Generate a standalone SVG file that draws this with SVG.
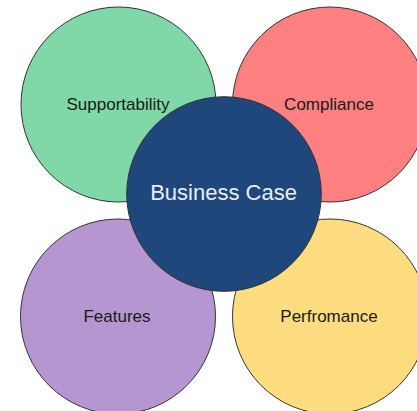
<svg xmlns="http://www.w3.org/2000/svg" width="417" height="411" viewBox="0 0 417 411">
<style>
.c{stroke:#333;stroke-width:1}
.t{font-family:"Liberation Sans",Arial,sans-serif;font-size:17px;fill:#1a1a1a;text-anchor:middle}
.b{font-family:"Liberation Sans",Arial,sans-serif;font-size:22px;fill:#e8eef8;text-anchor:middle}
</style>
<rect width="417" height="411" fill="#fff"/>
<g id="connectors"></g>
<g id="supportability">
<circle class="c" cx="118.5" cy="104.5" r="97.5" fill="#80d7a7"/>
<text class="t" x="118" y="110">Supportability</text>
</g>
<g id="compliance">
<circle class="c" cx="330" cy="104.5" r="97.5" fill="#ff8080"/>
<text class="t" x="329" y="110">Compliance</text>
</g>
<g id="features">
<circle class="c" cx="118" cy="316.5" r="97.5" fill="#b596d0"/>
<text class="t" x="117" y="321.5">Features</text>
</g>
<g id="perfromance">
<circle class="c" cx="330" cy="316.5" r="97.5" fill="#fedd80"/>
<text class="t" x="329" y="321.5">Perfromance</text>
</g>
<g id="business-case">
<circle class="c" cx="224" cy="194" r="97.3" fill="#1f477b"/>
<text class="b" x="223.5" y="200">Business Case</text>
</g>
</svg>
